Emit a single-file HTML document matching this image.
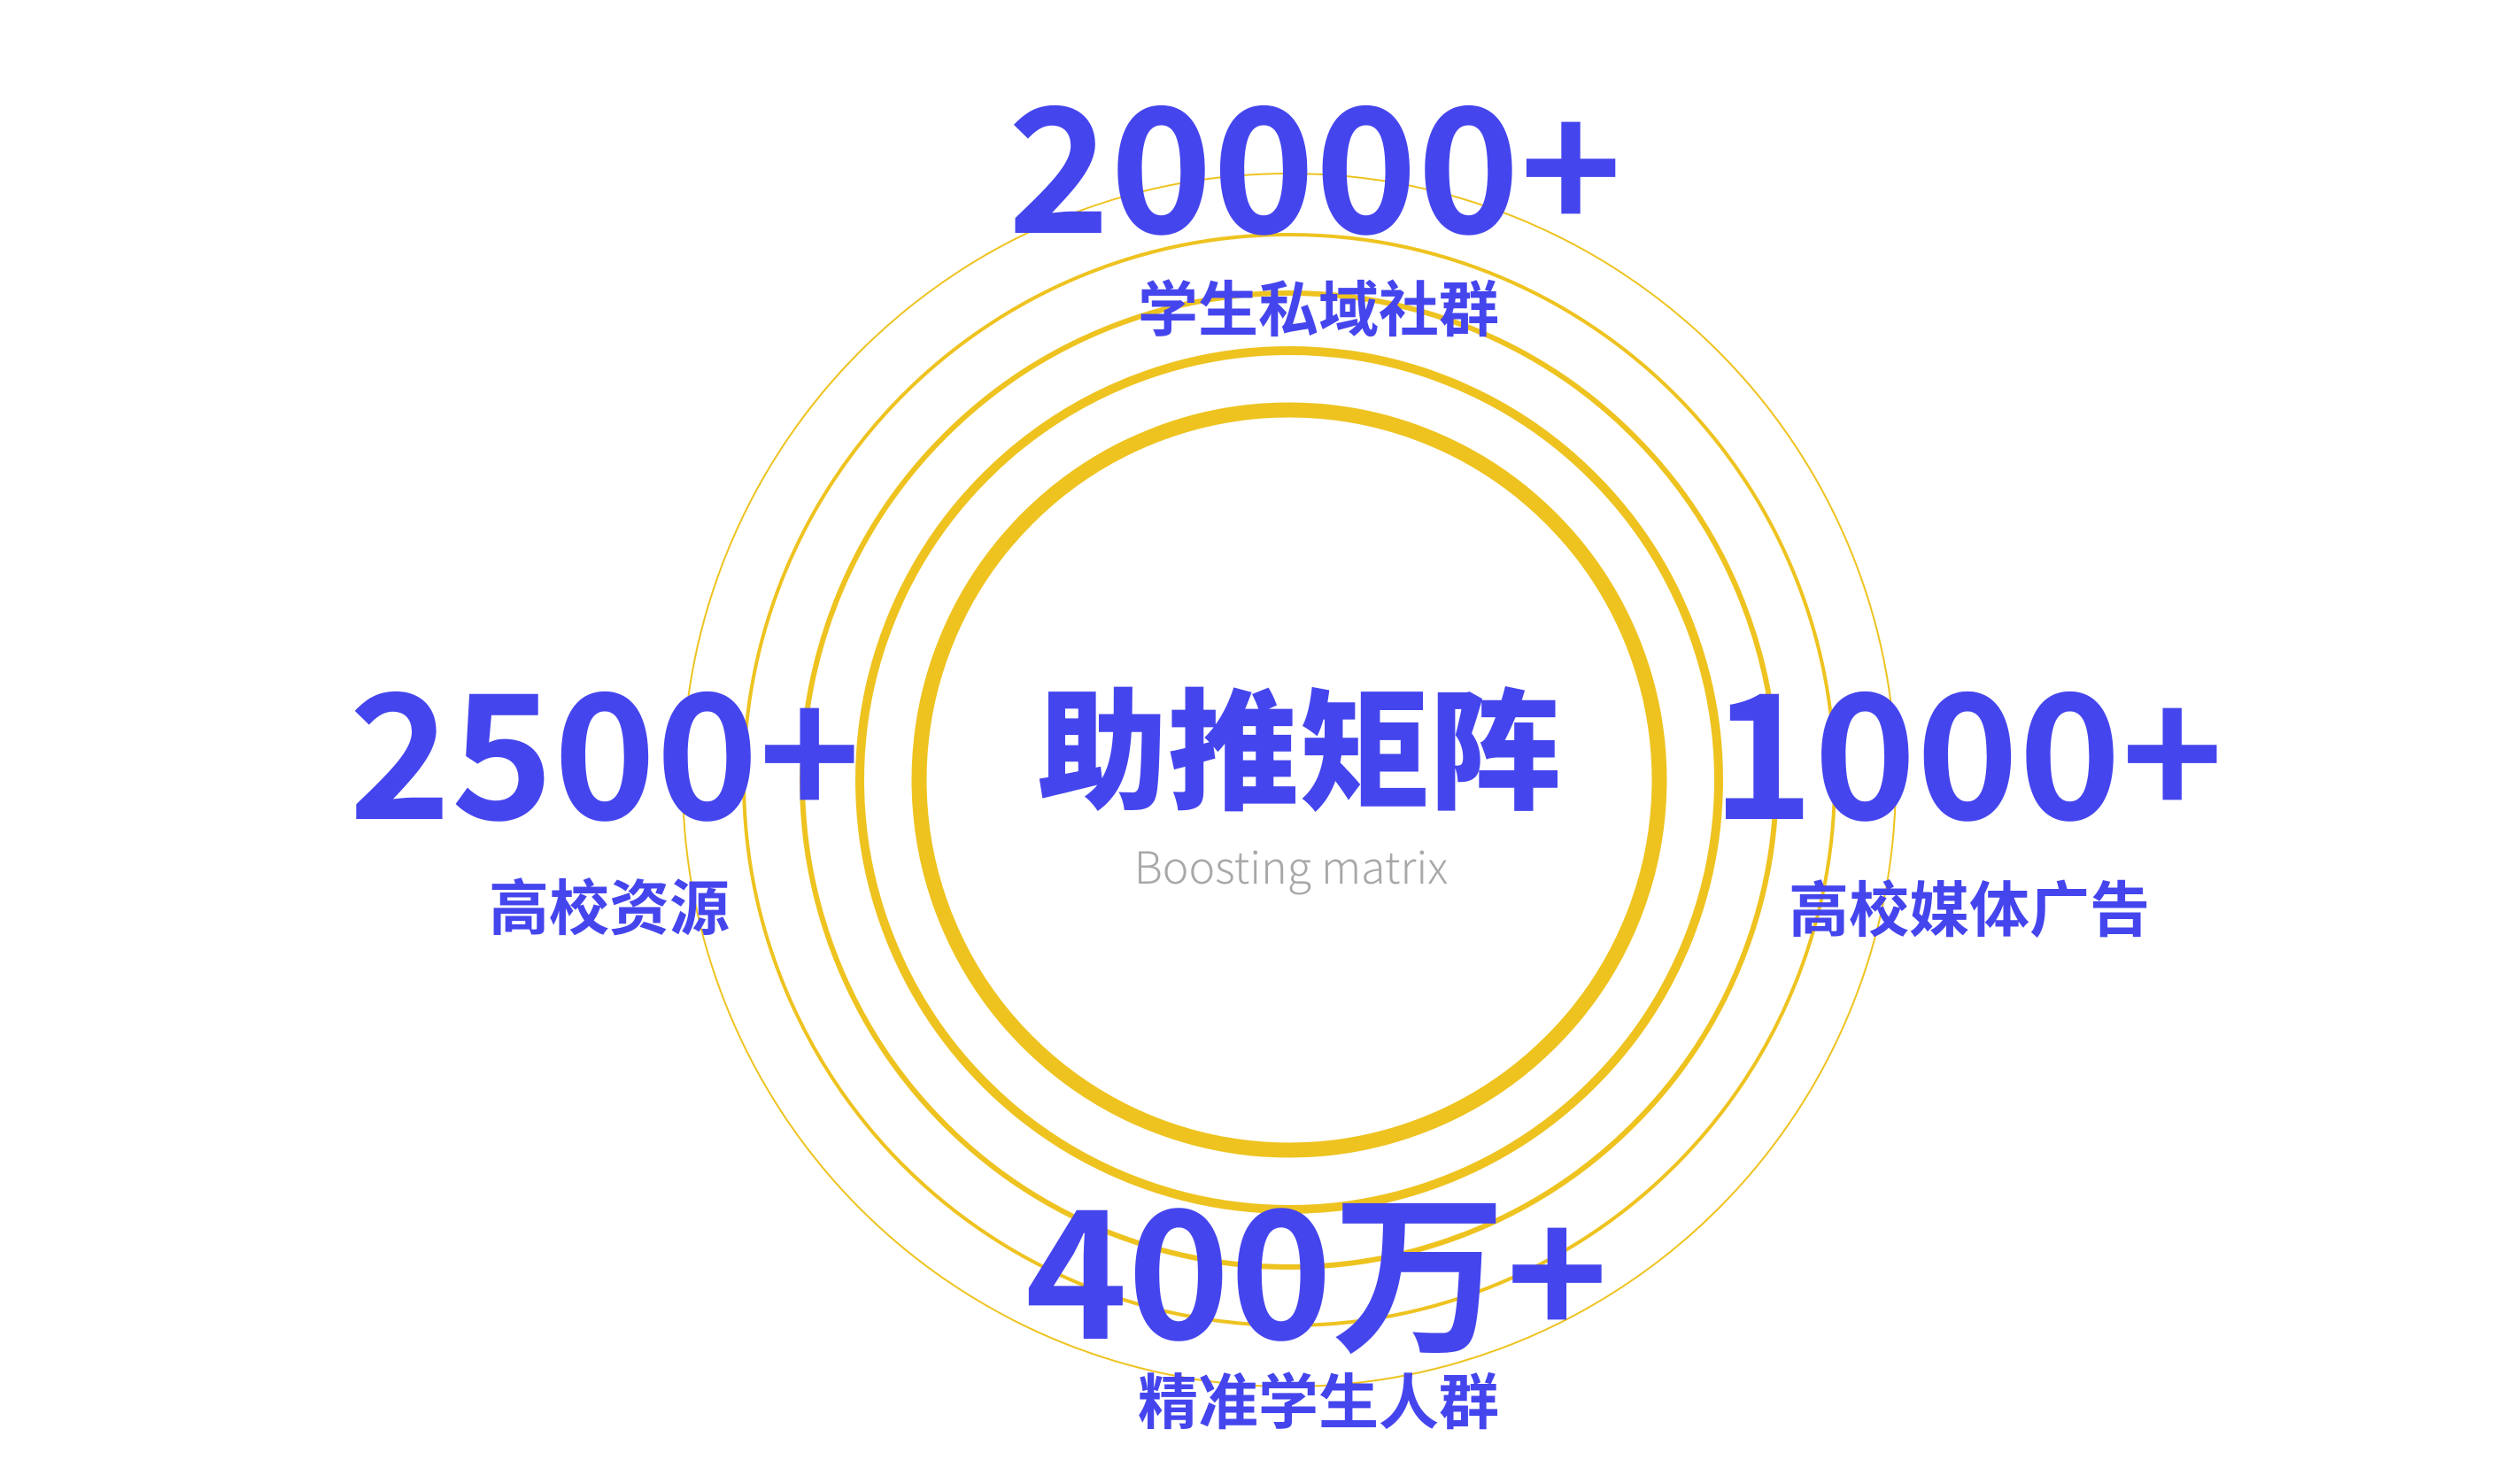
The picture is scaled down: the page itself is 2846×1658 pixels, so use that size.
<!DOCTYPE html>
<html><head><meta charset="utf-8"><style>
html,body{margin:0;padding:0;background:#fff;width:2846px;height:1658px;overflow:hidden}
svg{display:block}
.n{font-family:"Noto Sans CJK SC","Liberation Sans",sans-serif;font-weight:700;fill:#4545EE}
</style></head><body>
<svg width="2846" height="1658" viewBox="0 0 2846 1658" xmlns="http://www.w3.org/2000/svg">
<g fill="none" stroke="#EEC320">
<circle cx="1456" cy="881" r="418" stroke-width="17"/>
<circle cx="1456" cy="881" r="485" stroke-width="10"/>
<circle cx="1456" cy="881" r="550" stroke-width="6"/>
<circle cx="1456" cy="881" r="616" stroke-width="4"/>
<circle cx="1456" cy="881" r="685" stroke-width="2"/>
</g>
<g class="n" text-anchor="middle">
<text x="1485" y="263" font-size="196">20000+</text>
<text x="1489" y="374" font-size="68">学生私域社群</text>
<text x="683" y="925" font-size="196">2500+</text>
<text x="688" y="1050" font-size="68">高校资源</text>
<text x="2222" y="925" font-size="196">1000+</text>
<text x="2224" y="1052" font-size="68">高校媒体广告</text>
<text x="1487" y="1512" font-size="196">400万+</text>
<text x="1489" y="1608" font-size="68">精准学生人群</text>
<text x="1467" y="902" font-size="148" font-weight="900">助推矩阵</text>
</g>
<text x="1458" y="998" text-anchor="middle" font-family="'Noto Sans CJK SC','Liberation Sans',sans-serif" font-weight="300" font-size="50" fill="#A8A8A8">Boosting matrix</text>
</svg>
</body></html>
